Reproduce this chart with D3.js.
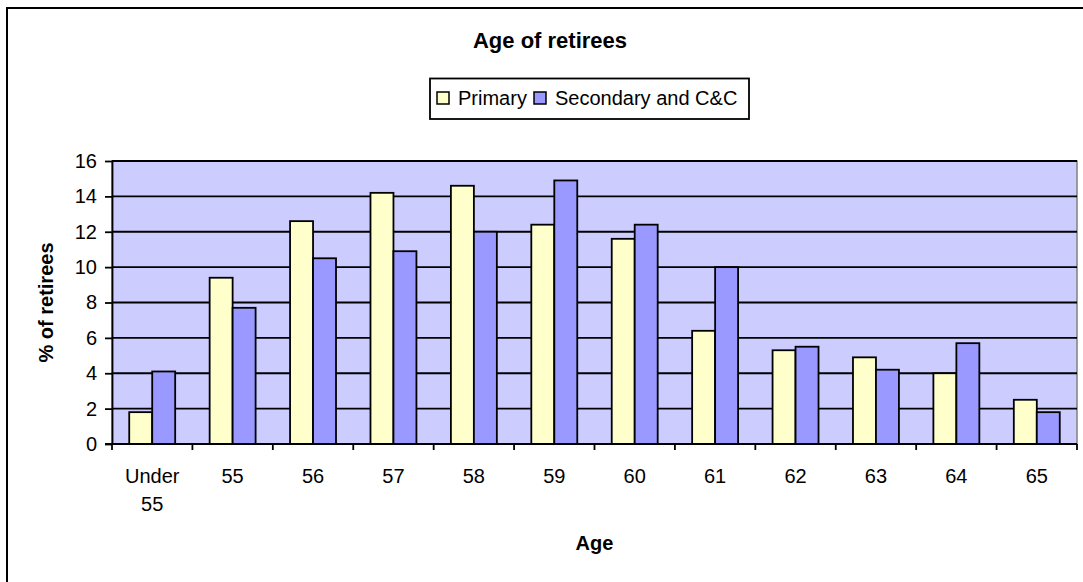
<!DOCTYPE html>
<html>
  <head>
    <meta charset="utf-8">
    <title>Age of retirees</title>
    <script src="https://d3js.org/d3.v7.min.js"></script>
    <style>
      body { margin: 0; background: #fff; }
      svg { display: block; font-family: "Liberation Sans", Arial, sans-serif; }
      .tick text { font-size: 20px; fill: #000; }
      .bold { font-weight: bold; }
    </style>
  </head>
  <body>
    <svg id="chart" width="1083" height="582"></svg>
    <script>
      // data
      const ages = ["Under 55", "55", "56", "57", "58", "59", "60", "61", "62", "63", "64", "65"];
      const seriesNames = ["Primary", "Secondary and C&C"];
      const primary = [1.8, 9.4, 12.6, 14.2, 14.6, 12.4, 11.6, 6.4, 5.3, 4.9, 4.0, 2.5];
      const secondary = [4.1, 7.7, 10.5, 10.9, 12.0, 14.9, 12.4, 10.0, 5.5, 4.2, 5.7, 1.8];
      const yTicks = [0, 2, 4, 6, 8, 10, 12, 14, 16];
      const colours = ["#FFFFCC", "#9999FF"];

      const svg = d3.select("#chart");
      const margin = { top: 161, right: 6, bottom: 138, left: 112 };
      const width = 1083, height = 582;

      // outer chart border (runs off the right and bottom edges)
      svg.append("rect")
        .attr("x", 7).attr("y", 8)
        .attr("width", 1100).attr("height", 600)
        .attr("fill", "none").attr("stroke", "#000").attr("stroke-width", 2);

      const x0 = d3.scaleBand()
        .domain(ages)
        .range([margin.left, width - margin.right]);
      const gap = x0.bandwidth() * 0.75 / 3.5;
      const x1 = d3.scaleBand()
        .domain(seriesNames)
        .range([gap, x0.bandwidth() - gap]);
      const y = d3.scaleLinear()
        .domain([0, 16])
        .range([height - margin.bottom, margin.top]);

      // plot area
      svg.append("rect")
        .attr("x", margin.left).attr("y", margin.top)
        .attr("width", width - margin.right - margin.left)
        .attr("height", y(0) - margin.top)
        .attr("fill", "#CCCCFF").attr("stroke", "#808080").attr("stroke-width", 1.5);

      // gridlines
      svg.append("g")
        .selectAll("line")
        .data(yTicks.filter(function(d) { return d > 0; }))
        .join("line")
          .attr("x1", margin.left).attr("x2", width - margin.right)
          .attr("y1", function(d) { return y(d); })
          .attr("y2", function(d) { return y(d); })
          .attr("stroke", "#000").attr("stroke-width", 1.8);

      // bars
      const rows = ages.map(function(a, i) {
        return { age: a, values: [primary[i], secondary[i]] };
      });
      svg.append("g")
        .selectAll("g")
        .data(rows)
        .join("g")
          .attr("transform", function(d) { return "translate(" + x0(d.age) + ",0)"; })
        .selectAll("rect")
        .data(function(d) {
          return d.values.map(function(v, i) { return { name: seriesNames[i], value: v, i: i }; });
        })
        .join("rect")
          .attr("x", function(d) { return x1(d.name); })
          .attr("y", function(d) { return y(d.value); })
          .attr("width", x1.bandwidth())
          .attr("height", function(d) { return y(0) - y(d.value); })
          .attr("fill", function(d) { return colours[d.i]; })
          .attr("stroke", "#000").attr("stroke-width", 1.8);

      // y axis
      const yAxis = d3.axisLeft(y)
        .tickValues(yTicks)
        .tickSizeInner(7).tickSizeOuter(0).tickPadding(8);
      const yGroup = svg.append("g")
        .attr("transform", "translate(" + margin.left + ",0)")
        .call(yAxis);
      yGroup.selectAll("line, path").attr("stroke", "#000").attr("stroke-width", 1.8);

      // x axis: ticks at category boundaries, labels centred
      const xGroup = svg.append("g")
        .attr("transform", "translate(0," + y(0) + ")");
      xGroup.append("line")
        .attr("x1", margin.left - 7).attr("x2", width - margin.right)
        .attr("stroke", "#000").attr("stroke-width", 1.8);
      xGroup.selectAll(".xtick")
        .data(ages.concat(["end"]))
        .join("line")
          .classed("xtick", true)
          .attr("x1", function(d, i) { return margin.left + i * x0.bandwidth(); })
          .attr("x2", function(d, i) { return margin.left + i * x0.bandwidth(); })
          .attr("y1", 0).attr("y2", 6)
          .attr("stroke", "#000").attr("stroke-width", 1.8);
      xGroup.selectAll(".xlabel")
        .data(ages)
        .join("text")
          .classed("xlabel", true)
          .attr("text-anchor", "middle")
          .style("font-size", "20px")
          .attr("y", 39)
          .each(function(d) {
            const words = d.split(" ");
            const t = d3.select(this);
            words.forEach(function(w, i) {
              t.append("tspan")
                .attr("x", x0(d) + x0.bandwidth() / 2)
                .attr("dy", i === 0 ? 0 : 28)
                .text(w);
            });
          });

      // titles
      svg.append("text")
        .attr("class", "bold")
        .attr("x", 550).attr("y", 48)
        .attr("text-anchor", "middle")
        .style("font-size", "22px")
        .text("Age of retirees");
      svg.append("text")
        .attr("class", "bold")
        .attr("x", (margin.left + width - margin.right) / 2).attr("y", 550)
        .attr("text-anchor", "middle")
        .style("font-size", "20px")
        .text("Age");
      svg.append("text")
        .attr("class", "bold")
        .attr("transform", "translate(53," + (margin.top + y(0)) / 2 + ") rotate(-90)")
        .attr("text-anchor", "middle")
        .style("font-size", "20px")
        .text("% of retirees");

      // legend
      const legend = svg.append("g");
      legend.append("rect")
        .attr("x", 430).attr("y", 78.5)
        .attr("width", 319).attr("height", 40.5)
        .attr("fill", "#fff").attr("stroke", "#000").attr("stroke-width", 1.8);
      const legendX = [437, 534];
      const items = legend.selectAll(".item")
        .data(seriesNames)
        .join("g")
          .classed("item", true)
          .attr("transform", function(d, i) { return "translate(" + legendX[i] + ",92)"; });
      items.append("rect")
        .attr("width", 12).attr("height", 12)
        .attr("fill", function(d, i) { return colours[i]; })
        .attr("stroke", "#000").attr("stroke-width", 1.5);
      items.append("text")
        .attr("x", 21).attr("y", 12.5)
        .style("font-size", "20px")
        .text(function(d) { return d; });
    </script>
  </body>
</html>
